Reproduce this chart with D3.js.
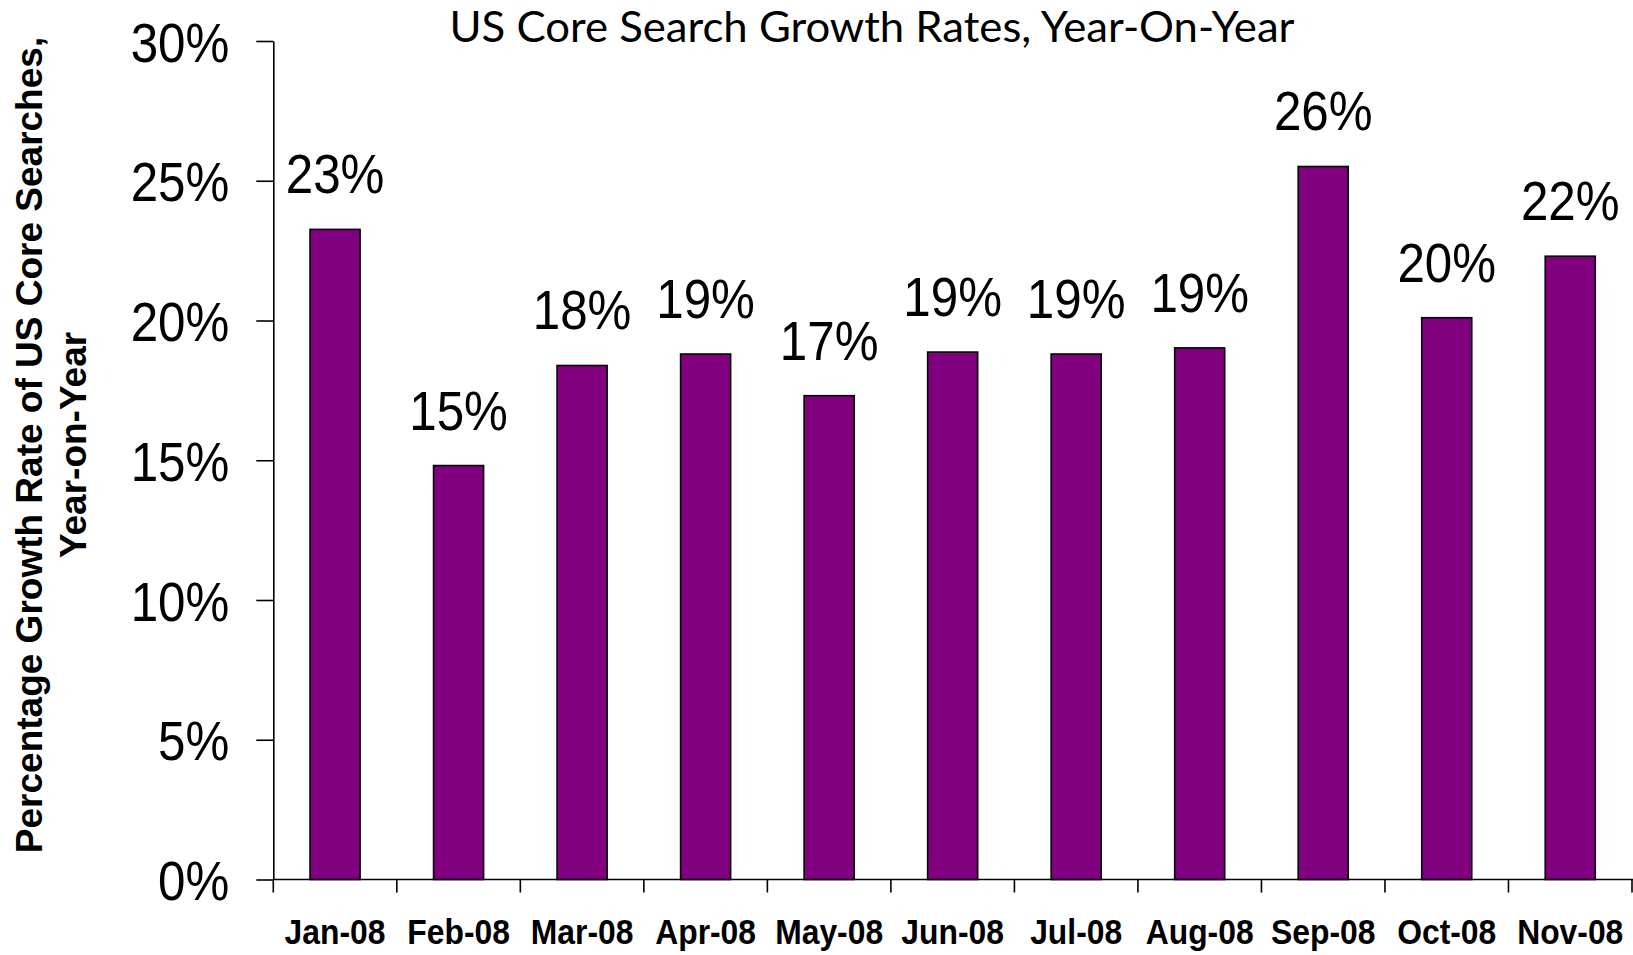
<!DOCTYPE html>
<html lang="en">
<head>
  <meta charset="UTF-8">
  <title>US Core Search Growth Rates, Year-On-Year</title>
  <script src="https://d3js.org/d3.v7.min.js"></script>
  <style>
    body {
      margin: 0;
      background: #ffffff;
    }
    .narrow text, text.narrow {
      font-family: "Liberation Sans", Arial, sans-serif;
    }
    .axis path, .axis line {
      stroke: #000;
      stroke-width: 1.6;
    }
  </style>
</head>
<body>

<svg id="chart" width="1633" height="955"></svg>

<script>
// chart values
const months = ["Jan-08", "Feb-08", "Mar-08", "Apr-08", "May-08", "Jun-08",
                "Jul-08", "Aug-08", "Sep-08", "Oct-08", "Nov-08"];
const growth = [23.26, 14.81, 18.39, 18.80, 17.31, 18.87, 18.80, 19.02, 25.51, 20.10, 22.30];
const yTicks = [0, 5, 10, 15, 20, 25, 30];

const title = "US Core Search Growth Rates, Year-On-Year";
const yTitle = ["Percentage Growth Rate of US Core Searches,", "Year-on-Year"];

const svg = d3.select("#chart");
const plot = {left: 273.3, right: 1632, top: 41, bottom: 879.5};
const squeeze = 0.88; // no Arial Narrow here, so squeeze Liberation Sans

const data = months.map((m, i) => ({month: m, value: growth[i]}));

// one cell per month, bars sit in the middle of each cell
const xCell = d3.scaleBand().domain(months).range([plot.left, plot.right]);
const x = xCell.copy().paddingInner(0.595).paddingOuter(0.2975);

const y = d3.scaleLinear().domain([0, 30]).range([plot.bottom, plot.top]);

// y axis
const yAxis = svg.append("g")
  .attr("class", "axis narrow")
  .attr("transform", `translate(${plot.left},0)`)
  .call(d3.axisLeft(y)
    .tickValues(yTicks)
    .tickSize(17)
    .tickSizeOuter(0)
    .tickPadding(10)
    .tickFormat(d => d + "%"));

yAxis.selectAll("text")
  .attr("font-size", 56)
  .attr("fill", "#000")
  .attr("font-family", null)
  .attr("x", -44 / squeeze)
  .attr("dy", "0.36em")
  .attr("transform", `scale(${squeeze},1)`);

// x axis: labels centred in cells, ticks on cell borders
const xAxis = svg.append("g")
  .attr("class", "axis narrow")
  .attr("transform", `translate(0,${plot.bottom})`)
  .call(d3.axisBottom(xCell).tickSize(0).tickPadding(40));

xAxis.select(".domain")
  .attr("d", `M${plot.left},0H${plot.right + 1}`);

xAxis.selectAll("text")
  .attr("font-size", 35)
  .attr("font-weight", "bold")
  .attr("fill", "#000")
  .attr("font-family", null)
  .attr("transform", "scale(0.91,1)");

const borders = months.map(m => xCell(m)).concat([plot.right]);
xAxis.selectAll("line.border")
  .data(borders)
  .enter()
  .append("line")
  .attr("class", "border")
  .attr("x1", d => d)
  .attr("x2", d => d)
  .attr("y1", 0)
  .attr("y2", 13);

// bars
svg.append("g")
  .selectAll("rect")
  .data(data)
  .enter()
  .append("rect")
  .attr("x", d => x(d.month))
  .attr("y", d => y(d.value))
  .attr("width", x.bandwidth())
  .attr("height", d => y(0) - y(d.value))
  .attr("fill", "#800080")
  .attr("stroke", "#000")
  .attr("stroke-width", 1.6);

// value labels
svg.append("g")
  .attr("class", "narrow")
  .selectAll("text")
  .data(data)
  .enter()
  .append("text")
  .attr("transform", d =>
    `translate(${x(d.month) + x.bandwidth() / 2},${y(d.value) - 36}) scale(${squeeze},1)`)
  .attr("text-anchor", "middle")
  .attr("font-size", 56)
  .attr("fill", "#000")
  .text(d => Math.round(d.value) + "%");

// chart title
svg.append("text")
  .attr("x", 872)
  .attr("y", 42)
  .attr("text-anchor", "middle")
  .attr("font-family", "Lato, 'Open Sans', sans-serif")
  .attr("font-size", 42)
  .attr("textLength", 845)
  .attr("lengthAdjust", "spacingAndGlyphs")
  .attr("fill", "#000")
  .text(title);

// y axis title, two lines
svg.append("g")
  .attr("transform", "translate(0,445) rotate(-90)")
  .selectAll("text")
  .data(yTitle)
  .enter()
  .append("text")
  .attr("x", 0)
  .attr("y", (d, i) => 42 + i * 44)
  .attr("text-anchor", "middle")
  .attr("font-family", "'Liberation Sans', Arial, sans-serif")
  .attr("font-weight", "bold")
  .attr("font-size", 37)
  .attr("fill", "#000")
  .text(d => d);
</script>

</body>
</html>
